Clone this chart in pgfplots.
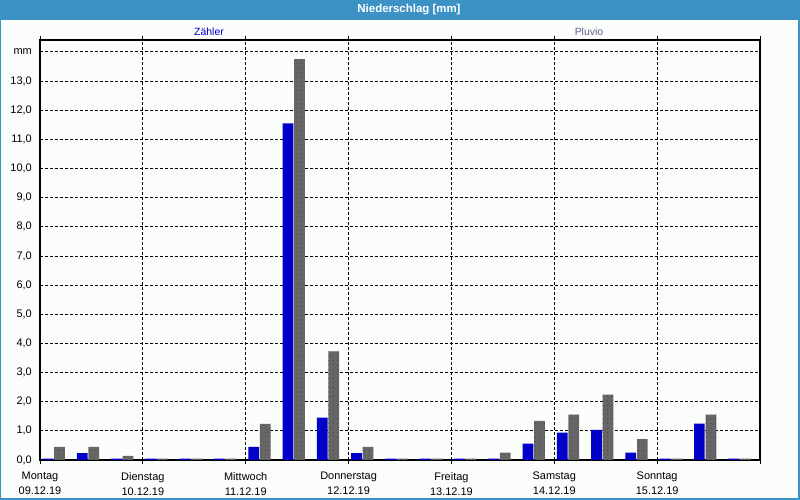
\documentclass[border=0pt]{standalone}
\usepackage{fontspec}
\setmainfont{Liberation Sans}
\usepackage{pgfplots}
\pgfplotsset{compat=1.18}
\usetikzlibrary{patterns.meta}

\definecolor{frameblue}{RGB}{60,145,197}
\definecolor{paper}{RGB}{251,253,251}
\definecolor{zaehler}{RGB}{0,0,200}
\definecolor{pluvio}{RGB}{102,102,102}
\definecolor{pluviotext}{RGB}{96,96,144}

% 8-hour slots, x in hours from Mon 09.12.19 00:00
\pgfplotstableread{
x     z      p
3.2   0.05   0.45
11.2  0.24   0.45
19.2  0.05   0.14
27.2  0.05   0.05
35.2  0.05   0.05
43.2  0.05   0.05
51.2  0.45   1.24
59.2  11.55  13.75
67.2  1.45   3.73
75.2  0.24   0.45
83.2  0.05   0.05
91.2  0.05   0.05
99.2  0.05   0.05
107.2 0.05   0.25
115.2 0.56   1.34
123.2 0.94   1.56
131.2 1.03   2.24
139.2 0.25   0.72
147.2 0.05   0.05
155.2 1.25   1.56
163.2 0.05   0.05
}\rain

\begin{document}
\begin{tikzpicture}[x=1bp,y=1bp]
\useasboundingbox (0,0) rectangle (800,500);
\fill[frameblue] (0,0) rectangle (800,500);
\fill[paper] (1,2) rectangle (798,480);
\node[white,font=\fontsize{11.5}{13}\selectfont\bfseries] at (409,490) {Niederschlag [mm]};
\node[zaehler,font=\fontsize{10.5}{12}\selectfont] at (209,468) {Zähler};
\node[pluviotext,font=\fontsize{10.5}{12}\selectfont] at (589,468) {Pluvio};
\begin{axis}[
    at={(40bp,40bp)}, anchor=south west,
    scale only axis, width=720bp, height=420bp,
    xmin=0, xmax=168, ymin=0, ymax=14.41,
    axis line style={black, line width=1.2bp},
    font=\fontsize{11}{15}\selectfont,
    xtick={0,24,...,168},
    xticklabels={{Montag\\09.12.19},{Dienstag\\10.12.19},{Mittwoch\\11.12.19},{Donnerstag\\12.12.19},{Freitag\\13.12.19},{Samstag\\14.12.19},{Sonntag\\15.12.19},{}},
    xticklabel style={align=center, inner sep=0pt, yshift=-8bp},
    ytick={0,1,...,14},
    yticklabels={{0,0},{1,0},{2,0},{3,0},{4,0},{5,0},{6,0},{7,0},{8,0},{9,0},{10,0},{11,0},{12,0},{13,0},mm},
    yticklabel style={inner sep=0pt, xshift=-4bp},
    ytick style={draw=none},
    xtick style={black, line width=0.8bp, dash pattern=on 3bp off 2bp},
    tick align=outside, major tick length=4bp,
    grid=major,
    grid style={black, line width=0.9bp, dash pattern=on 3bp off 2bp},
    ybar, bar width=2.5,
]
\addplot[draw=none, fill=zaehler, bar shift=-1.35] table[x=x, y=z] {\rain};
\addplot[draw=none, fill=pluvio, bar shift=1.35,
    postaction={pattern={Dots[distance=4.5bp, radius=0.5bp]}, pattern color=black!75}]
    table[x=x, y=p] {\rain};
\end{axis}
\end{tikzpicture}
\end{document}
